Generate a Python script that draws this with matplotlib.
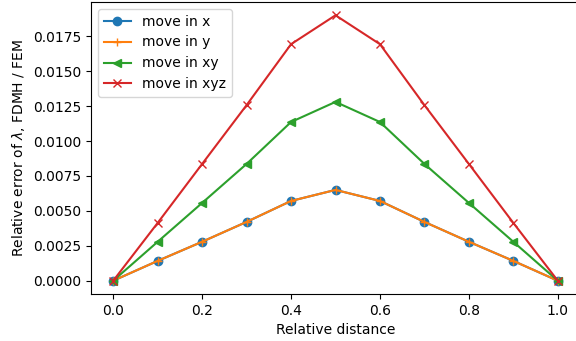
import matplotlib

matplotlib.use("Agg")
import matplotlib.pyplot as plt  # noqa: E402

distance = [0.0, 0.1, 0.2, 0.3, 0.4, 0.5, 0.6, 0.7, 0.8, 0.9, 1.0]
err_x = [0.0, 0.00142, 0.00279, 0.00421, 0.00571, 0.0065, 0.00571, 0.00421, 0.00279, 0.00142, 0.0]
err_y = [0.0, 0.00142, 0.00279, 0.00421, 0.00571, 0.0065, 0.00571, 0.00421, 0.00279, 0.00142, 0.0]
err_xy = [0.0, 0.00279, 0.00557, 0.00836, 0.01136, 0.0128, 0.01136, 0.00836, 0.00557, 0.00279, 0.0]
err_xyz = [0.0, 0.00414, 0.00836, 0.01257, 0.01693, 0.0190, 0.01693, 0.01257, 0.00836, 0.00414, 0.0]

fig = plt.figure(figsize=(5.76, 3.41), dpi=100)
ax = fig.add_axes([91 / 576, 47 / 341, 489 / 576, 292 / 341])

ax.plot(distance, err_x, marker="o", label="move in x")
ax.plot(distance, err_y, marker="+", label="move in y")
ax.plot(distance, err_xy, marker="<", label="move in xy")
ax.plot(distance, err_xyz, marker="x", label="move in xyz")

ax.set_xlabel("Relative distance")
ax.set_ylabel(r"Relative error of $\lambda$, FDMH / FEM")
ax.legend(loc="upper left")

fig.savefig("out.png", dpi=100)
